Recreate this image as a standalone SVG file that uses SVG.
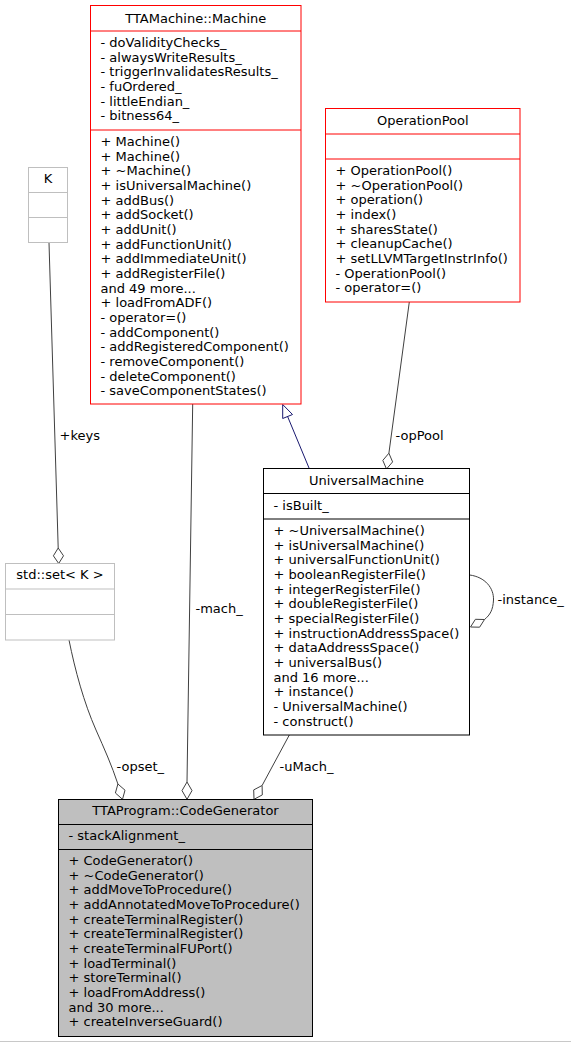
<svg xmlns="http://www.w3.org/2000/svg" width="571" height="1043" viewBox="0 0 571 1043">
<style>
text{font-family:"DejaVu Sans","Noto Sans",sans-serif;font-size:13px;fill:#000}
.c{text-anchor:middle}
.box{fill:#fff;stroke:#000;stroke-width:1}
.red{stroke:#ff0000}
.gray{stroke:#bfbfbf}
.focus{fill:#bfbfbf}
.sep{stroke-width:1;fill:none}
.edge{fill:none;stroke:#404040;stroke-width:1}
.dia{fill:#fff;stroke:#404040;stroke-width:1}
.inh{fill:none;stroke:#191970;stroke-width:1}
.tri{fill:#fff;stroke:#191970;stroke-width:1}
</style>
<rect x="0" y="0" width="571" height="1043" fill="#fff"/>
<line x1="0" y1="1041.5" x2="571" y2="1041.5" stroke="#c8c8c8" stroke-width="1"/>

<g id="edges">
  <path class="edge" d="M49,242.7 L58.2,548"/>
  <polygon class="dia" points="58.7,563.5 63.5,555.8 58.2,548 53.4,555.8"/>
  <path class="edge" d="M69,640 C75,670 84,703 96,730 C104,748 112,766 117.9,784"/>
  <polygon class="dia" points="122.5,799.3 125,790.2 117.9,784 115.4,793"/>
  <path class="edge" d="M192.7,404 L187,782"/>
  <polygon class="dia" points="187,799.3 192,790.6 187,782 182,790.6"/>
  <path class="edge" d="M289.3,735 L262.1,785.5"/>
  <polygon class="dia" points="254,799.3 262.3,794.9 262.1,785.5 253.7,789.9"/>
  <path class="inh" d="M309.3,468.7 L287.6,416.5"/>
  <polygon class="tri" points="282.7,404.5 292.5,414.5 282.7,418.5"/>
  <path class="edge" d="M409.3,302 L388.9,453.2"/>
  <polygon class="dia" points="386.5,469 392.6,461.9 388.9,453.2 382.8,460.4"/>
  <path class="edge" d="M469.7,575 C485,577 494,588 493.5,600 C493,610 490,615 484.5,619.5"/>
  <polygon class="dia" points="470.5,627 479.6,627.2 484.5,619.5 475.4,619.3"/>
  <text x="59.5" y="440">+keys</text>
  <text x="116.5" y="771">-opset_</text>
  <text x="195.5" y="613">-mach_</text>
  <text x="279.5" y="771">-uMach_</text>
  <text x="395.5" y="439.5">-opPool</text>
  <text x="497.5" y="604">-instance_</text>
</g>

<g id="node-machine">
  <rect class="box red" x="90.5" y="5.5" width="210.5" height="398.5"/>
  <line class="sep red" x1="90.5" y1="31" x2="301" y2="31"/>
  <line class="sep red" x1="90.5" y1="130" x2="301" y2="130"/>
  <text class="c" x="195.75" y="22.5">TTAMachine::Machine</text>
  <text x="100.5" y="47">- doValidityChecks_</text>
  <text x="100.5" y="61.7">- alwaysWriteResults_</text>
  <text x="100.5" y="76.3">- triggerInvalidatesResults_</text>
  <text x="100.5" y="91">- fuOrdered_</text>
  <text x="100.5" y="105.7">- littleEndian_</text>
  <text x="100.5" y="120.3">- bitness64_</text>
  <text x="100.5" y="146">+ Machine()</text>
  <text x="100.5" y="160.7">+ Machine()</text>
  <text x="100.5" y="175.3">+ ~Machine()</text>
  <text x="100.5" y="190">+ isUniversalMachine()</text>
  <text x="100.5" y="204.7">+ addBus()</text>
  <text x="100.5" y="219.3">+ addSocket()</text>
  <text x="100.5" y="234">+ addUnit()</text>
  <text x="100.5" y="248.7">+ addFunctionUnit()</text>
  <text x="100.5" y="263.3">+ addImmediateUnit()</text>
  <text x="100.5" y="278">+ addRegisterFile()</text>
  <text x="100.5" y="292.7">and 49 more...</text>
  <text x="100.5" y="307.3">+ loadFromADF()</text>
  <text x="100.5" y="322">- operator=()</text>
  <text x="100.5" y="336.7">- addComponent()</text>
  <text x="100.5" y="351.3">- addRegisteredComponent()</text>
  <text x="100.5" y="366">- removeComponent()</text>
  <text x="100.5" y="380.7">- deleteComponent()</text>
  <text x="100.5" y="395.3">- saveComponentStates()</text>
</g>

<g id="node-operationpool">
  <rect class="box red" x="325.5" y="108.5" width="194.5" height="193.5"/>
  <line class="sep red" x1="325.5" y1="134" x2="520" y2="134"/>
  <line class="sep red" x1="325.5" y1="159" x2="520" y2="159"/>
  <text class="c" x="422.75" y="125">OperationPool</text>
  <text x="335.5" y="175">+ OperationPool()</text>
  <text x="335.5" y="189.7">+ ~OperationPool()</text>
  <text x="335.5" y="204.3">+ operation()</text>
  <text x="335.5" y="219">+ index()</text>
  <text x="335.5" y="233.7">+ sharesState()</text>
  <text x="335.5" y="248.3">+ cleanupCache()</text>
  <text x="335.5" y="263">+ setLLVMTargetInstrInfo()</text>
  <text x="335.5" y="277.7">- OperationPool()</text>
  <text x="335.5" y="292.3">- operator=()</text>
</g>

<g id="node-k">
  <rect class="box gray" x="28.5" y="167.5" width="39" height="75"/>
  <line class="sep gray" x1="28.5" y1="192.5" x2="67.5" y2="192.5"/>
  <line class="sep gray" x1="28.5" y1="217.5" x2="67.5" y2="217.5"/>
  <text class="c" x="48" y="183.3">K</text>
</g>

<g id="node-stdset">
  <rect class="box gray" x="5.5" y="563.5" width="109" height="76.5"/>
  <line class="sep gray" x1="5.5" y1="589" x2="114.5" y2="589"/>
  <line class="sep gray" x1="5.5" y1="614.5" x2="114.5" y2="614.5"/>
  <text class="c" x="60" y="579.3">std::set&lt; K &gt;</text>
</g>

<g id="node-universalmachine">
  <rect class="box" x="263.5" y="468.5" width="206" height="266.5"/>
  <line class="sep" stroke="#000" x1="263.5" y1="493.5" x2="469.5" y2="493.5"/>
  <line class="sep" stroke="#000" x1="263.5" y1="519" x2="469.5" y2="519"/>
  <text class="c" x="366.5" y="485">UniversalMachine</text>
  <text x="273.5" y="510">- isBuilt_</text>
  <text x="273.5" y="535">+ ~UniversalMachine()</text>
  <text x="273.5" y="549.7">+ isUniversalMachine()</text>
  <text x="273.5" y="564.3">+ universalFunctionUnit()</text>
  <text x="273.5" y="579">+ booleanRegisterFile()</text>
  <text x="273.5" y="593.7">+ integerRegisterFile()</text>
  <text x="273.5" y="608.3">+ doubleRegisterFile()</text>
  <text x="273.5" y="623">+ specialRegisterFile()</text>
  <text x="273.5" y="637.7">+ instructionAddressSpace()</text>
  <text x="273.5" y="652.3">+ dataAddressSpace()</text>
  <text x="273.5" y="667">+ universalBus()</text>
  <text x="273.5" y="681.7">and 16 more...</text>
  <text x="273.5" y="696.3">+ instance()</text>
  <text x="273.5" y="711">- UniversalMachine()</text>
  <text x="273.5" y="725.7">- construct()</text>
</g>

<g id="node-codegenerator">
  <rect class="box focus" x="58.5" y="799.5" width="254" height="237"/>
  <line class="sep" stroke="#000" x1="58.5" y1="824.5" x2="312.5" y2="824.5"/>
  <line class="sep" stroke="#000" x1="58.5" y1="849.5" x2="312.5" y2="849.5"/>
  <text class="c" x="185.5" y="815">TTAProgram::CodeGenerator</text>
  <text x="68.5" y="840">- stackAlignment_</text>
  <text x="68.5" y="865">+ CodeGenerator()</text>
  <text x="68.5" y="879.7">+ ~CodeGenerator()</text>
  <text x="68.5" y="894.3">+ addMoveToProcedure()</text>
  <text x="68.5" y="909">+ addAnnotatedMoveToProcedure()</text>
  <text x="68.5" y="923.7">+ createTerminalRegister()</text>
  <text x="68.5" y="938.3">+ createTerminalRegister()</text>
  <text x="68.5" y="953">+ createTerminalFUPort()</text>
  <text x="68.5" y="967.7">+ loadTerminal()</text>
  <text x="68.5" y="982.3">+ storeTerminal()</text>
  <text x="68.5" y="997">+ loadFromAddress()</text>
  <text x="68.5" y="1011.7">and 30 more...</text>
  <text x="68.5" y="1026.3">+ createInverseGuard()</text>
</g>
</svg>
